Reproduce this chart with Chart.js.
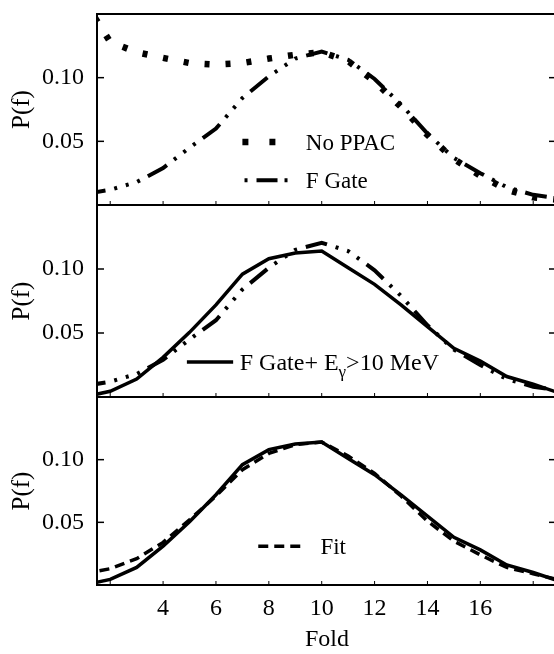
<!DOCTYPE html>
<html>
<head>
<meta charset="utf-8">
<script src="https://cdn.jsdelivr.net/npm/chart.js@4.4.0/dist/chart.umd.min.js"></script>
<style>
  html, body { margin: 0; padding: 0; background: #fff; }
  #wrap { position: relative; width: 554px; height: 654px; overflow: hidden; background: #fff; }
  #wrap canvas { position: absolute; left: 0; }
</style>
</head>
<body>
<div id="wrap">
  <canvas id="panelTop" width="558" height="210" style="top:0px"></canvas>
  <canvas id="panelMid" width="558" height="202" style="top:200px"></canvas>
  <canvas id="panelBot" width="558" height="262" style="top:392px"></canvas>
</div>
<script>
// fold values (x) and probabilities
const folds = [1, 2, 3, 4, 5, 6, 7, 8, 9, 10, 11, 12, 13, 14, 15, 16, 17, 18, 19];
const noPpac = [0.161, 0.128, 0.120, 0.1155, 0.1115, 0.1103, 0.1115, 0.115, 0.118, 0.120,
                0.113, 0.097, 0.077, 0.055, 0.036, 0.023, 0.012, 0.006, 0.004];
const fGate = [0.0085, 0.012, 0.018, 0.029, 0.045, 0.060, 0.084, 0.101, 0.115, 0.1205,
               0.114, 0.099, 0.079, 0.056, 0.037, 0.025, 0.014, 0.008, 0.005];
const fGateHighE = [0.0, 0.0045, 0.014, 0.031, 0.0505, 0.072, 0.096, 0.108, 0.1125, 0.114,
                    0.101, 0.088, 0.072, 0.055, 0.038, 0.028, 0.016, 0.010, 0.003];
const fitValues = [0.009, 0.013, 0.021, 0.034, 0.052, 0.071, 0.092, 0.105, 0.112, 0.114,
                   0.103, 0.089, 0.071, 0.051, 0.035, 0.024, 0.014, 0.009, 0.004];

const xTickValues = [4, 6, 8, 10, 12, 14, 16];
const xMarkValues = [2, 4, 6, 8, 10, 12, 14, 16, 18];
const yTickValues = [0.05, 0.10];

const X_MIN = 1.5, X_MAX = 18.9;
const SERIF = "'Liberation Serif', 'Times New Roman', serif";

Chart.defaults.font.family = SERIF;
Chart.defaults.color = '#000';

const toPoints = values => folds.map((f, i) => ({ x: f, y: values[i] }));

const series = {
    noPpac: { label: 'No PPAC', data: toPoints(noPpac), borderColor: '#000', borderWidth: 6.5, borderDash: [5, 16] },
    fGate: { label: 'F Gate', data: toPoints(fGate), borderColor: '#000', borderWidth: 4, borderDash: [22, 9, 3, 9, 3, 9, 3, 9] },
    highE: { label: 'F Gate+ E\u03b3>10 MeV', data: toPoints(fGateHighE), borderColor: '#000', borderWidth: 3.5 },
    fit: { label: 'Fit', data: toPoints(fitValues), borderColor: '#000', borderWidth: 3.5, borderDash: [10, 6] }
};

// frame, inward ticks
const framePlugin = {
    id: 'frame',
    afterDraw(chart) {
        const { ctx, chartArea: a, scales: { x, y } } = chart;
        const line = (x1, y1, x2, y2) => { ctx.beginPath(); ctx.moveTo(x1, y1); ctx.lineTo(x2, y2); ctx.stroke(); };
        ctx.save();
        ctx.strokeStyle = '#000';
        ctx.lineWidth = 2;
        ctx.strokeRect(a.left, a.top, a.right - a.left, a.bottom - a.top);
        ctx.lineWidth = 1.5;
        yTickValues.forEach(v => {
            const py = y.getPixelForValue(v);
            line(a.left, py, a.left + 7, py);
            line(a.right - 8, py, a.right, py);
        });
        ctx.lineWidth = 1;
        xMarkValues.forEach(v => {
            const px = x.getPixelForValue(v);
            line(px, a.bottom, px, a.bottom - 4);
        });
        ctx.restore();
    }
};

// legend drawn inside the plot, anchored in data coordinates
const insideLegend = {
    id: 'insideLegend',
    afterDatasetsDraw(chart, args, opts) {
        const { ctx, scales: { x, y } } = chart;
        (opts.items || []).forEach(item => {
            const ds = chart.data.datasets[item.dataset];
            const py = y.getPixelForValue(item.at);
            const size = item.size || 23;
            ctx.save();
            ctx.strokeStyle = '#000';
            ctx.lineWidth = ds.borderWidth;
            ctx.setLineDash(item.dash || ds.borderDash || []);
            ctx.beginPath();
            ctx.moveTo(x.getPixelForValue(item.from), py);
            ctx.lineTo(x.getPixelForValue(item.to), py);
            ctx.stroke();
            ctx.setLineDash([]);

            ctx.fillStyle = '#000';
            ctx.textBaseline = 'middle';
            let tx = x.getPixelForValue(item.text);
            const parts = item.sub ? ds.label.split(item.sub) : [ds.label];
            parts.forEach((part, i) => {
                ctx.font = size + 'px ' + SERIF;
                ctx.fillText(part, tx, py + 2);
                tx += ctx.measureText(part).width;
                if (i < parts.length - 1) {
                    ctx.font = '17px ' + SERIF;
                    ctx.fillText(item.sub, tx, py + 10);
                    tx += ctx.measureText(item.sub).width;
                }
            });
            ctx.restore();
        });
    }
};

function panelOptions(showX, padTop, padBottom, legendItems) {
    return {
        responsive: false,
        animation: false,
        devicePixelRatio: 1,
        layout: { padding: { top: padTop, bottom: padBottom, left: 0, right: 1 } },
        elements: { point: { radius: 0 }, line: { tension: 0, fill: false, borderCapStyle: 'butt' } },
        plugins: {
            legend: { display: false },
            tooltip: { enabled: false },
            insideLegend: { items: legendItems }
        },
        scales: {
            x: {
                type: 'linear',
                min: X_MIN,
                max: X_MAX,
                afterBuildTicks: s => { s.ticks = xTickValues.map(v => ({ value: v })); },
                afterFit: s => {
                    s.height = showX ? 69 : 0;
                    s.paddingLeft = 0;
                    s.paddingRight = 0;
                },
                grid: { display: false, drawTicks: false },
                border: { display: false },
                ticks: { display: showX, padding: 9, font: { size: 24 }, callback: v => String(v) },
                title: { display: showX, text: 'Fold', font: { size: 24 }, padding: { top: 0, bottom: 0 } }
            },
            y: {
                type: 'linear',
                min: 0,
                max: 0.15,
                afterBuildTicks: s => { s.ticks = yTickValues.map(v => ({ value: v })); },
                afterFit: s => {
                    s.width = 97;
                    s.paddingTop = 0;
                    s.paddingBottom = 0;
                },
                grid: { display: false, drawTicks: false },
                border: { display: false },
                ticks: { padding: 13, font: { size: 24 }, callback: v => v.toFixed(2) },
                title: { display: true, text: 'P(f)', font: { size: 25 }, padding: { top: 7, bottom: 0 } }
            }
        }
    };
}

new Chart(document.getElementById('panelTop'), {
    type: 'line',
    data: { datasets: [series.noPpac, series.fGate] },
    options: panelOptions(false, 14, 5, [
        { dataset: 0, at: 0.0495, from: 7.0, to: 8.25, dash: [6, 21], text: 9.4 },
        { dataset: 1, at: 0.0195, from: 7.08, to: 8.75, dash: [3, 9, 21, 7, 3, 100], text: 9.4 }
    ]),
    plugins: [framePlugin, insideLegend]
});

new Chart(document.getElementById('panelMid'), {
    type: 'line',
    data: { datasets: [series.highE, { ...series.fGate }] },
    options: panelOptions(false, 5, 5, [
        { dataset: 0, at: 0.0273, from: 4.9, to: 6.65, text: 6.9, sub: '\u03b3', size: 24 }
    ]),
    plugins: [framePlugin, insideLegend]
});

new Chart(document.getElementById('panelBot'), {
    type: 'line',
    data: { datasets: [{ ...series.highE }, series.fit] },
    options: panelOptions(true, 5, 0, [
        { dataset: 1, at: 0.031, from: 7.6, to: 9.3, text: 9.95 }
    ]),
    plugins: [framePlugin, insideLegend]
});
</script>
</body>
</html>
